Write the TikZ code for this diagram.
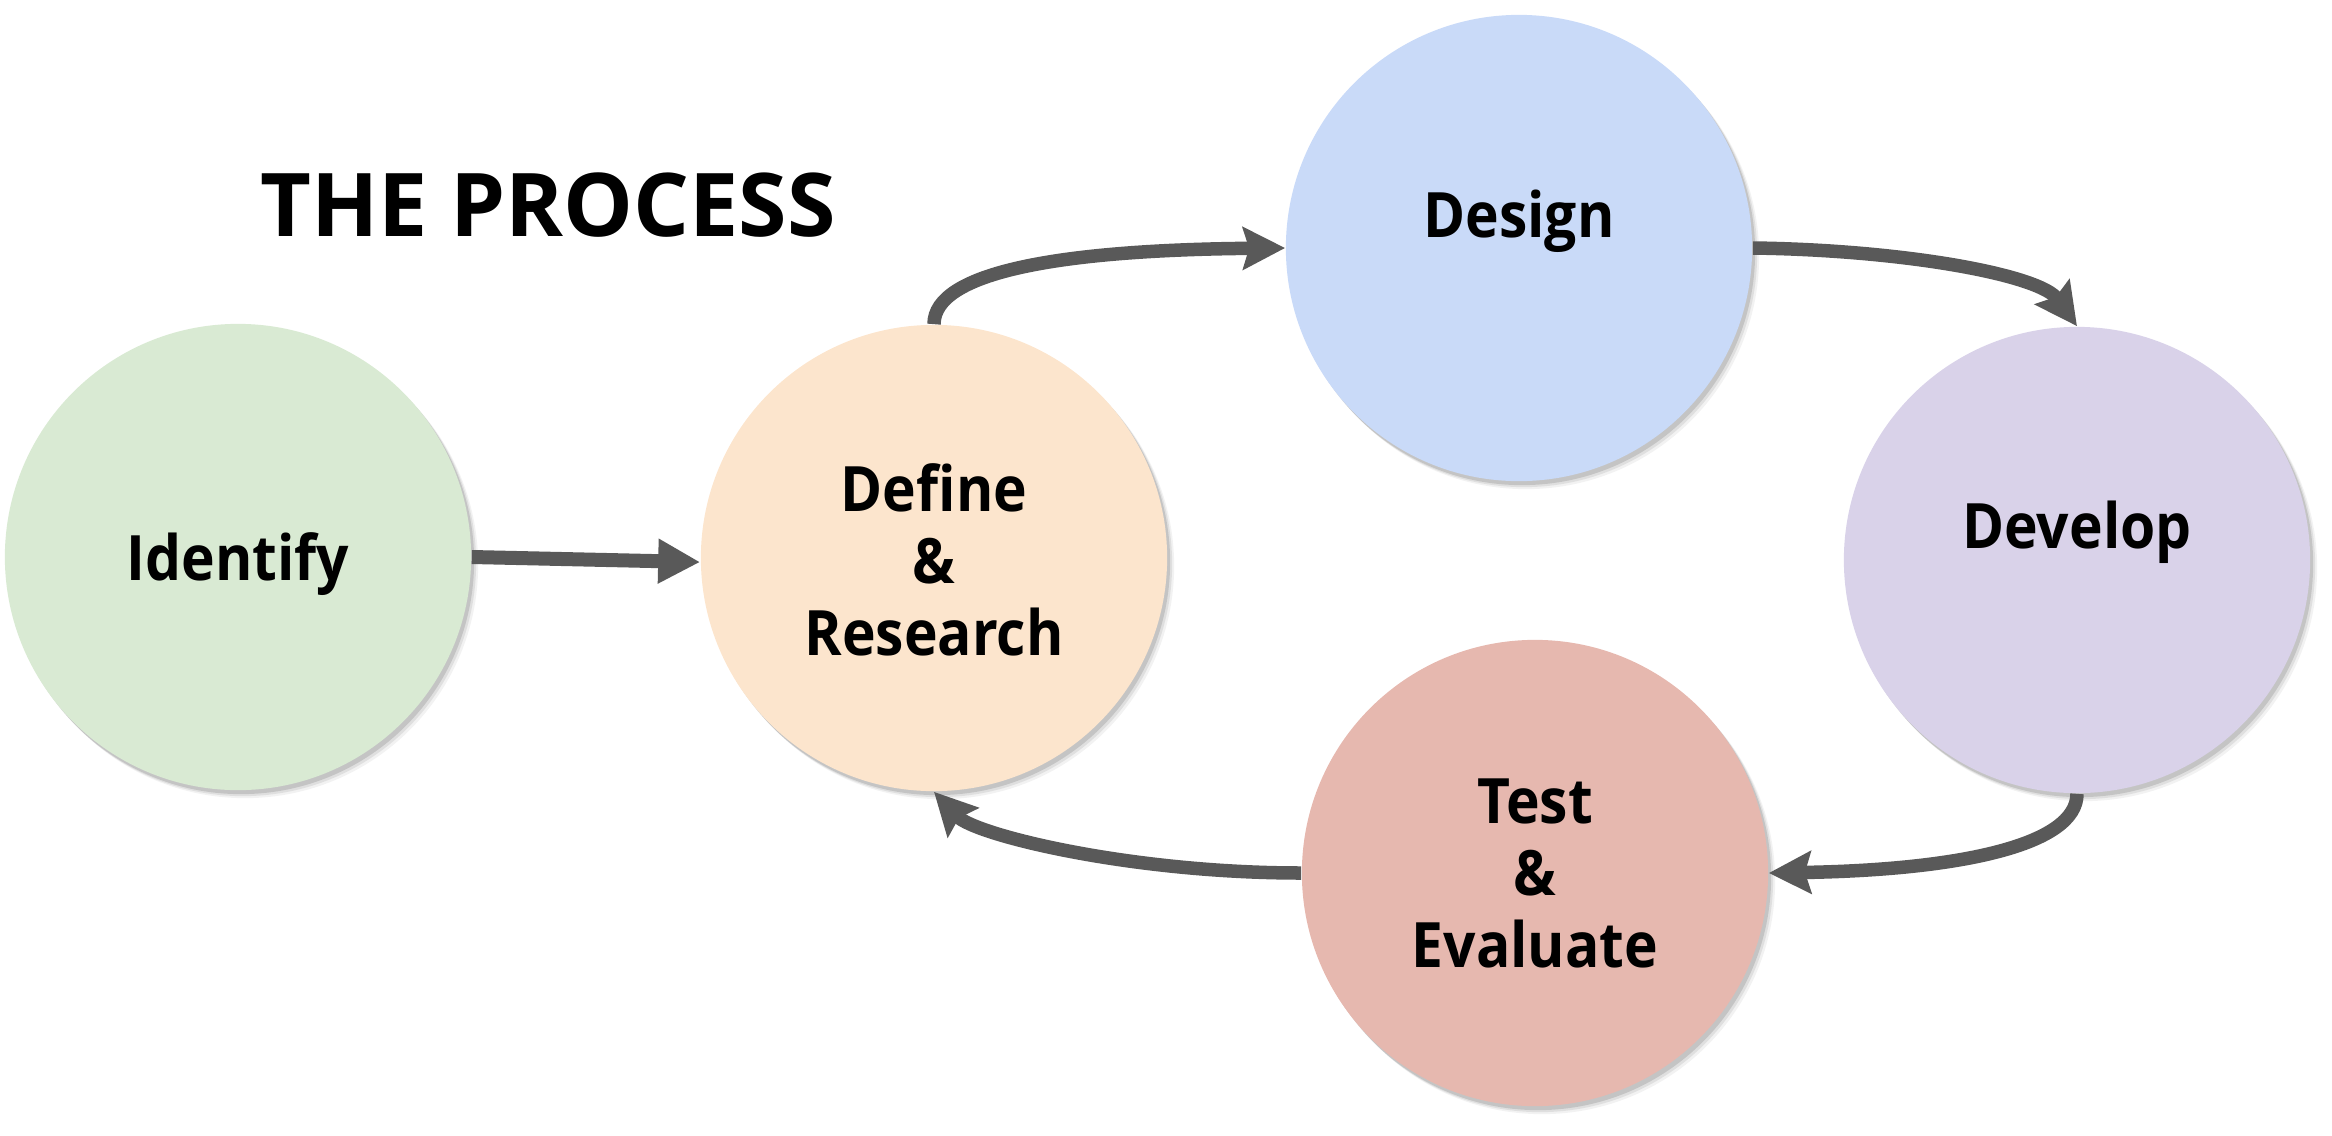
\documentclass[tikz,border=0pt]{standalone}
\usepackage{fontspec}
\setmainfont{Open Sans}
\newfontfamily\nodefont{Open Sans}[FakeStretch=0.91]
\usetikzlibrary{arrows.meta,shadows}
\definecolor{arrowgray}{HTML}{595959}
\definecolor{cgreen}{HTML}{D9EAD3}
\definecolor{corange}{HTML}{FCE5CD}
\definecolor{cblue}{HTML}{C9DAF8}
\definecolor{cpurple}{HTML}{D9D2E9}
\definecolor{cred}{HTML}{E6B8AF}
\begin{document}
\begin{tikzpicture}[x=0.01cm,y=-0.01cm,
  stage/.style={circle, minimum size=4.66cm, inner sep=0pt, draw=none,
     drop shadow={shadow xshift=0.07cm, shadow yshift=-0.08cm, opacity=0.05, fill=black},
     drop shadow={shadow xshift=0.05cm, shadow yshift=-0.06cm, opacity=0.08, fill=black},
     drop shadow={shadow xshift=0.03cm, shadow yshift=-0.04cm, opacity=0.12, fill=black}},
  txt/.style={anchor=base, inner sep=0pt, font=\nodefont\fontsize{17.8}{21}\selectfont\bfseries},
  ttl/.style={anchor=base, inner sep=0pt, font=\fontsize{25}{30}\selectfont\bfseries},
  flow/.style={draw=arrowgray, line width=0.135cm,
     -{Stealth[length=0.42cm,width=0.42cm,inset=0.06cm]}},
  sflow/.style={draw=arrowgray, line width=0.14cm,
     -{Triangle[length=0.42cm,width=0.42cm]}}
]
\useasboundingbox (0,0) rectangle (2332,1136);

\node[stage, fill=cgreen]  (identify) at (238,557) {};
\node[stage, fill=corange] (define)   at (934,558) {};
\node[stage, fill=cblue]   (design)   at (1519,248) {};
\node[stage, fill=cpurple] (develop)  at (2077,560) {};
\node[stage, fill=cred]    (test)     at (1535,873) {};

\node[ttl] (title) at (548,236) {THE PROCESS};

\node[txt] (tidentify) at (238,580) {Identify};
\node[txt] (tdefine1)  at (934,511) {Define};
\node[txt] (tdefine2)  at (934,583) {\&};
\node[txt] (tdefine3)  at (934,655) {Research};
\node[txt] (tdesign)   at (1519,237) {Design};
\node[txt] (tdevelop)  at (2077,548) {Develop};
\node[txt] (ttest1)    at (1535,823) {Test};
\node[txt] (ttest2)    at (1535,895) {\&};
\node[txt] (ttest3)    at (1535,967) {Evaluate};

\draw[sflow] (identify.east) -- (define.181);
\draw[flow] (define.north) .. controls (934,272) and (1060,250) .. (design.west);
\draw[flow] (design.east) .. controls (1905,250) and (2040,275) .. (develop.north);
\draw[flow] (develop.south) .. controls (2077,845) and (1960,870) .. (test.east);
\draw[flow] (test.west) .. controls (1130,873) and (975,835) .. (define.south);
\end{tikzpicture}
\end{document}
